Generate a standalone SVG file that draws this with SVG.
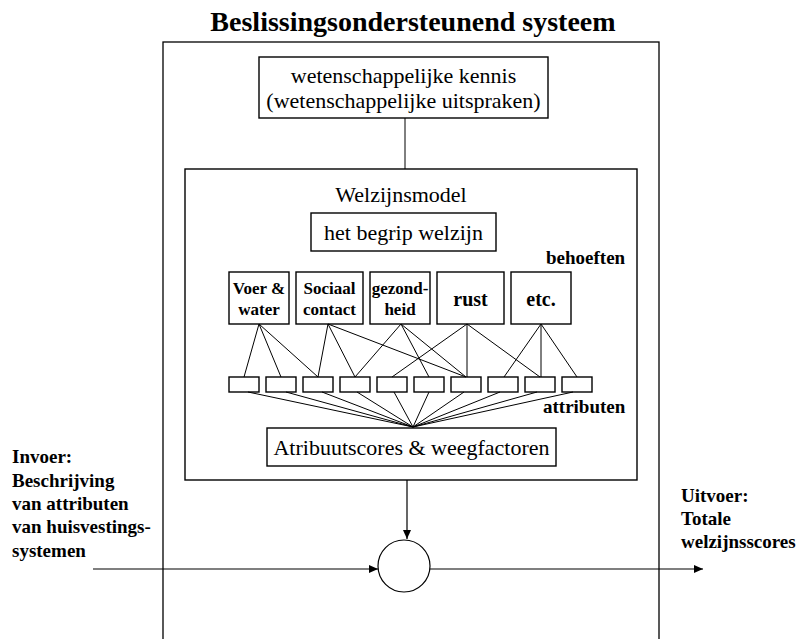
<svg xmlns="http://www.w3.org/2000/svg" width="797" height="639" viewBox="0 0 797 639">
<defs>
<style>
.bx{fill:#fff;stroke:#000;stroke-width:1.4}
.ln{fill:none;stroke:#000;stroke-width:1}
.t{font-family:"Liberation Serif","Times New Roman",serif;fill:#000}
.r22{font-size:22px}
.b19{font-size:19px;font-weight:bold}
.b17{font-size:17px;font-weight:bold}
.b20{font-size:20px;font-weight:bold}
.c{text-anchor:middle}
</style>
<marker id="ah" markerUnits="userSpaceOnUse" markerWidth="9" markerHeight="8" refX="9" refY="4" orient="auto">
<path d="M0,0 L9,4 L0,8 z" fill="#000"/>
</marker>
</defs>
<rect width="797" height="639" fill="#fff"/>

<g id="system">
<rect x="163" y="42" width="496" height="620" fill="none" stroke="#000" stroke-width="1.3"/>
<text class="t c" x="413" y="31" font-size="28" font-weight="bold">Beslissingsondersteunend systeem</text>
</g>

<g id="kennis">
<rect class="bx" x="259" y="57" width="289" height="61"/>
<text class="t r22 c" x="403.5" y="83">wetenschappelijke kennis</text>
<text class="t r22 c" x="403.5" y="108">(wetenschappelijke uitspraken)</text>
</g>

<g id="welzijnsmodel">
<rect class="bx" x="185" y="169" width="452" height="311"/>
<text class="t r22 c" x="401" y="202">Welzijnsmodel</text>
</g>

<g id="begrip">
<rect class="bx" x="311" y="213" width="185" height="38"/>
<text class="t r22 c" x="403.5" y="240">het begrip welzijn</text>
</g>

<g id="behoeften-label">
<text class="t b19" x="546" y="264">behoeften</text>
</g>

<g id="need-voer">
<rect class="bx" x="229" y="272" width="60" height="52"/>
<text class="t b17 c" x="259" y="294">Voer &amp;</text>
<text class="t b17 c" x="259" y="315">water</text>
</g>
<g id="need-sociaal">
<rect class="bx" x="296" y="272" width="67" height="52"/>
<text class="t b17 c" x="329.5" y="294">Sociaal</text>
<text class="t b17 c" x="329.5" y="315">contact</text>
</g>
<g id="need-gezondheid">
<rect class="bx" x="370" y="272" width="60" height="52"/>
<text class="t b17 c" x="400" y="294">gezond-</text>
<text class="t b17 c" x="400" y="315">heid</text>
</g>
<g id="need-rust">
<rect class="bx" x="437" y="272" width="67" height="52"/>
<text class="t b20 c" x="470.5" y="306">rust</text>
</g>
<g id="need-etc">
<rect class="bx" x="511" y="272" width="60" height="52"/>
<text class="t b20 c" x="541" y="306">etc.</text>
</g>

<g id="attributes">
<rect class="bx" x="229" y="377" width="30" height="15"/>
<rect class="bx" x="266" y="377" width="30" height="15"/>
<rect class="bx" x="303" y="377" width="30" height="15"/>
<rect class="bx" x="340" y="377" width="30" height="15"/>
<rect class="bx" x="377" y="377" width="30" height="15"/>
<rect class="bx" x="414" y="377" width="30" height="15"/>
<rect class="bx" x="451" y="377" width="30" height="15"/>
<rect class="bx" x="488" y="377" width="30" height="15"/>
<rect class="bx" x="525" y="377" width="30" height="15"/>
<rect class="bx" x="562" y="377" width="30" height="15"/>
<text class="t b19" x="543" y="413">attributen</text>
</g>

<g id="scores">
<rect class="bx" x="267" y="428" width="289" height="38"/>
<text class="t r22 c" x="411.5" y="455">Atribuutscores &amp; weegfactoren</text>
</g>

<g id="aggregator">
<circle cx="404" cy="566" r="26" fill="#fff" stroke="#000" stroke-width="1.2"/>
</g>

<g id="invoer">
<text class="t b19" x="12" y="463">Invoer:</text>
<text class="t b19" x="12" y="487">Beschrijving</text>
<text class="t b19" x="12" y="510">van attributen</text>
<text class="t b19" x="12" y="533">van huisvestings-</text>
<text class="t b19" x="12" y="557">systemen</text>
</g>

<g id="uitvoer">
<text class="t b19" x="681" y="502">Uitvoer:</text>
<text class="t b19" x="681" y="525">Totale</text>
<text class="t b19" x="681" y="548">welzijnsscores</text>
</g>

<g id="connectors" class="ln">
<line x1="405" y1="118" x2="405" y2="169"/>
<line x1="259" y1="324" x2="244" y2="377"/>
<line x1="259" y1="324" x2="281" y2="377"/>
<line x1="259" y1="324" x2="318" y2="377"/>
<line x1="328" y1="324" x2="318" y2="377"/>
<line x1="328" y1="324" x2="355" y2="377"/>
<line x1="328" y1="324" x2="466" y2="377"/>
<line x1="401" y1="324" x2="355" y2="377"/>
<line x1="401" y1="324" x2="429" y2="377"/>
<line x1="401" y1="324" x2="466" y2="377"/>
<line x1="467" y1="324" x2="392" y2="377"/>
<line x1="467" y1="324" x2="467" y2="377"/>
<line x1="467" y1="324" x2="540" y2="377"/>
<line x1="541" y1="324" x2="504" y2="377"/>
<line x1="541" y1="324" x2="541" y2="377"/>
<line x1="541" y1="324" x2="577" y2="377"/>
<line x1="248" y1="392" x2="413" y2="427"/>
<line x1="286" y1="392" x2="413" y2="427"/>
<line x1="322" y1="392" x2="413" y2="427"/>
<line x1="357" y1="392" x2="413" y2="427"/>
<line x1="394" y1="392" x2="413" y2="427"/>
<line x1="429" y1="392" x2="413" y2="427"/>
<line x1="464" y1="392" x2="413" y2="427"/>
<line x1="500" y1="392" x2="413" y2="427"/>
<line x1="537" y1="392" x2="413" y2="427"/>
<line x1="573" y1="392" x2="413" y2="427"/>
<line x1="407" y1="480" x2="407" y2="539" stroke-width="1.2" marker-end="url(#ah)"/>
<line x1="93" y1="569" x2="378" y2="569" stroke-width="1.2" marker-end="url(#ah)"/>
<line x1="430" y1="569" x2="703" y2="569" stroke-width="1.2" marker-end="url(#ah)"/>
</g>
</svg>
